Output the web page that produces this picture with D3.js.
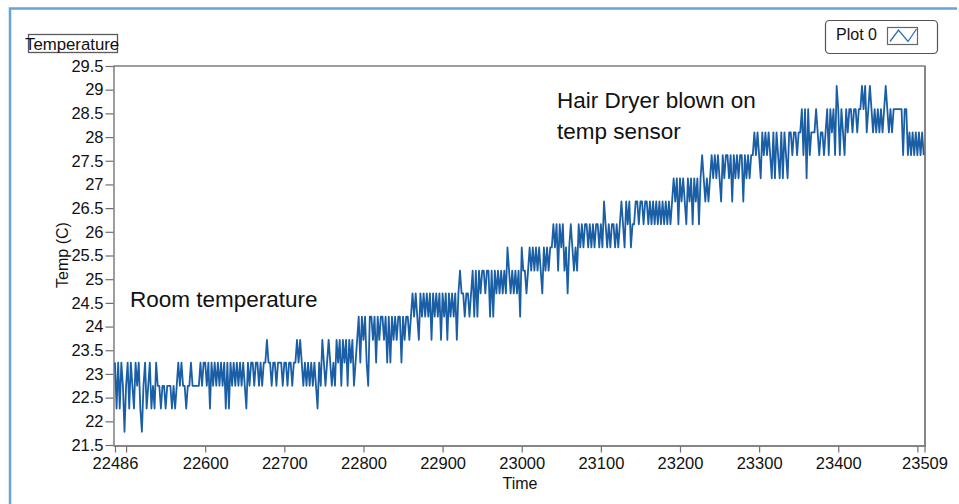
<!DOCTYPE html>
<html>
<head>
<meta charset="utf-8">
<script src="https://cdn.jsdelivr.net/npm/d3@7"></script>
<style>
  html, body { margin: 0; padding: 0; background: #fff; }
  svg { display: block; font-family: "Liberation Sans", Arial, sans-serif; }
</style>
</head>
<body>
<svg id="chart" width="959" height="504"></svg>
<script>
// ---------------- DATA ----------------
const chartTitle = "Temperature";
const legendLabel = "Plot 0";
const xAxisTitle = "Time";
const yAxisTitle = "Temp (C)";
const annotationRoom = ["Room temperature"];
const annotationDryer = ["Hair Dryer blown on", "temp sensor"];

const xDomain = [22486, 23509];
const yDomain = [21.5, 29.5];

const xLabeledTicks = [22486, 22600, 22700, 22800, 22900, 23000, 23100, 23200, 23300, 23400, 23509];
const xMinorTicks = [22500, 23500];
const yTicks = [21.5, 22, 22.5, 23, 23.5, 24, 24.5, 25, 25.5, 26, 26.5, 27, 27.5, 28, 28.5, 29, 29.5];
const yTickLabels = ["21.5","22","22.5","23","23.5","24","24.5","25","25.5","26","26.5","27","27.5","28","28.5","29","29.5"];

// quantized sensor readings (deg C), referenced by hex code 0..f
const levelTemps = [21.78, 22.27, 22.75, 23.24, 23.72, 24.21, 24.70, 25.18,
                    25.67, 26.16, 26.64, 27.13, 27.62, 28.10, 28.59, 29.08];

// samples every 2 time units, one block per 100 time units
const sampleStep = 2;
const blockStartTimes = [22486, 22500, 22600, 22700, 22800, 22900, 23000, 23100, 23200, 23300, 23400, 23500];
const blockLevels = [
  "3131320",
  "2313213231" + "0231231213" + "2212212221" + "2123232212" + "2322222323",
  "3231323232" + "3231313232" + "3232321323" + "3233232334" + "3323323332",
  "3323323343" + "4323232323" + "2132432343" + "2324342434" + "2434234535",
  "4532554535" + "4554535354" + "5455354554" + "5656546565" + "6564656564",
  "6564656564" + "6766566567" + "5757677677" + "5757676767" + "6876767675",
  "8776787878" + "7876878788" + "9897989786" + "8987879898" + "9989898998",
  "98a9898998" + "989a98a9a8" + "99aa9aa9aa" + "9a9a9a9a9a" + "9a9a9abab9",
  "baba9bab9b" + "ab9bcbabab" + "cbcbcbacbc" + "cbcacbcbcc" + "acbcbccdcd",
  "cbdcdcdcbd" + "bdcbdbdcbd" + "dcddcddece" + "becdddedcd" + "dcdecedecf",
  "ecedcedeed" + "eedeefefde" + "fedededede" + "fededeeeee" + "eceecdcdcd",
  "cdcdc"
];

// ---------------- BUILD SERIES ----------------
const series = [];
blockLevels.forEach((str, b) => {
  for (let j = 0; j < str.length; j++) {
    series.push({ t: blockStartTimes[b] + j * sampleStep, v: levelTemps[parseInt(str[j], 16)] });
  }
});

// ---------------- LAYOUT ----------------
const svg = d3.select("#chart");
const plot = { left: 114, top: 66, right: 925, bottom: 446 };

const x = d3.scaleLinear().domain(xDomain).range([115, 924.5]);
const y = d3.scaleLinear().domain(yDomain).range([445, 66]);

const lineBlue = "#1a5fa6";
const gray = "#6f6f6f";

// outer panel border (light blue)
svg.append("path")
  .attr("d", "M10,504 V8.5 H957")
  .attr("fill", "none")
  .attr("stroke", "#68a2dc")
  .attr("stroke-width", 2.5);

// plot frame
svg.append("rect")
  .attr("x", plot.left).attr("y", plot.top)
  .attr("width", plot.right - plot.left).attr("height", plot.bottom - plot.top)
  .attr("fill", "#fff")
  .attr("stroke", "#5e5e5e").attr("stroke-width", 1.2);
svg.append("path")
  .attr("d", `M${plot.left},${plot.bottom} H${plot.right} V${plot.top}`)
  .attr("fill", "none")
  .attr("stroke", "#858585").attr("stroke-width", 2);

// data line
const line = d3.line().x(d => x(d.t)).y(d => y(d.v));
svg.append("path")
  .datum(series)
  .attr("d", line)
  .attr("fill", "none")
  .attr("stroke", lineBlue)
  .attr("stroke-width", 1.8)
  .attr("stroke-linejoin", "round");

// y axis
const yAxis = d3.axisLeft(y)
  .tickValues(yTicks)
  .tickFormat((d, i) => yTickLabels[i])
  .tickSize(8).tickPadding(2);
const gy = svg.append("g").attr("transform", `translate(${plot.left - 0.5},0)`).call(yAxis);
gy.select(".domain").remove();
gy.selectAll(".tick line").attr("stroke", gray).attr("stroke-width", 1.2);
gy.selectAll(".tick text").attr("fill", "#111").style("font-size", "16.5px");

// x axis
const allXTicks = xLabeledTicks.concat(xMinorTicks).sort((a, b) => a - b);
const xAxis = d3.axisBottom(x)
  .tickValues(allXTicks)
  .tickFormat(d => xMinorTicks.includes(d) ? "" : String(d))
  .tickSize(6).tickPadding(5);
const gx = svg.append("g").attr("transform", `translate(0,${plot.bottom + 0.5})`).call(xAxis);
gx.select(".domain").remove();
gx.selectAll(".tick line").attr("stroke", gray).attr("stroke-width", 1.2);
gx.selectAll(".tick text").attr("fill", "#111").style("font-size", "16.5px");

// axis titles
svg.append("text")
  .attr("transform", "translate(68,255) rotate(-90)")
  .attr("text-anchor", "middle")
  .style("font-size", "16px").attr("fill", "#111")
  .text(yAxisTitle);
svg.append("text")
  .attr("x", 520).attr("y", 489)
  .attr("text-anchor", "middle")
  .style("font-size", "16px").attr("fill", "#111")
  .text(xAxisTitle);

// chart title with box
svg.append("rect")
  .attr("x", 28.5).attr("y", 34.5).attr("width", 89).attr("height", 18)
  .attr("fill", "none").attr("stroke", "#5a5a5a").attr("stroke-width", 1.3);
svg.append("text")
  .attr("x", 25).attr("y", 50)
  .style("font-size", "16.8px").attr("fill", "#111")
  .text(chartTitle);

// legend
svg.append("rect")
  .attr("x", 825.5).attr("y", 20.5).attr("width", 112).attr("height", 33).attr("rx", 4)
  .attr("fill", "#fff").attr("stroke", "#555").attr("stroke-width", 1.2);
svg.append("text")
  .attr("x", 836).attr("y", 40)
  .style("font-size", "16px").attr("fill", "#111")
  .text(legendLabel);
svg.append("rect")
  .attr("x", 887.5).attr("y", 27.5).attr("width", 30).attr("height", 17)
  .attr("fill", "#fff").attr("stroke", "#666").attr("stroke-width", 1.2);
svg.append("path")
  .attr("d", "M890,41.5 L898.5,30 L908,41.5 L916.5,29")
  .attr("fill", "none").attr("stroke", "#2a6fb5").attr("stroke-width", 1.3);

// annotations
svg.append("text")
  .attr("x", 130).attr("y", 307)
  .style("font-size", "22.5px").attr("fill", "#111")
  .text(annotationRoom[0]);
const dry = svg.append("text")
  .attr("x", 557).attr("y", 108)
  .style("font-size", "22.5px").attr("fill", "#111");
annotationDryer.forEach((s, i) => {
  dry.append("tspan").attr("x", 557).attr("dy", i === 0 ? 0 : 31).text(s);
});
</script>
</body>
</html>
